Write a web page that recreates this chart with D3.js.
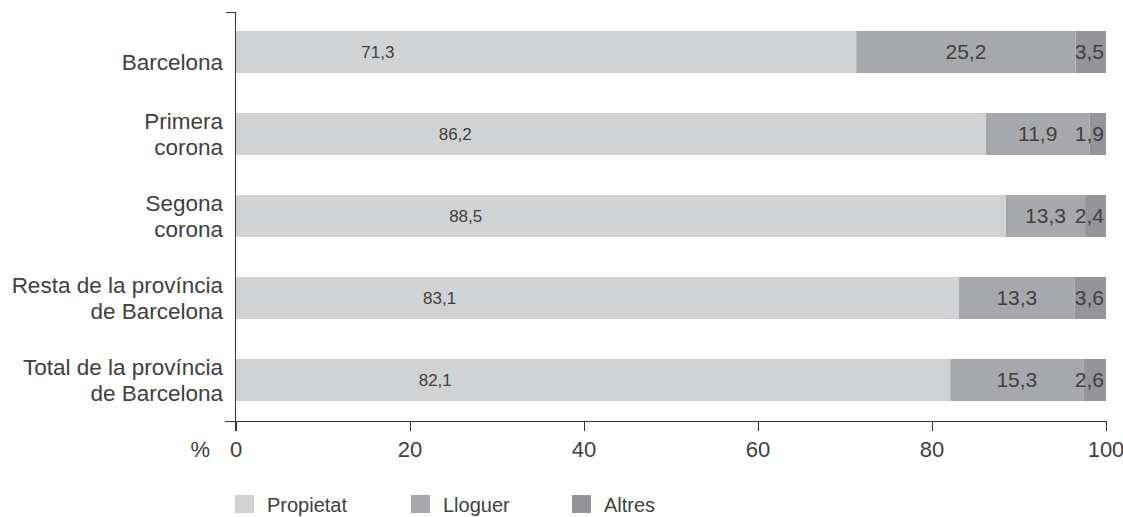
<!DOCTYPE html>
<html>
<head>
<meta charset="utf-8">
<script src="https://cdn.jsdelivr.net/npm/d3@7"></script>
<style>
  html, body { margin: 0; padding: 0; background: #fff; }
  svg { display: block; font-family: "Liberation Sans", Arial, sans-serif; }
</style>
</head>
<body>
<svg id="chart" width="1123" height="517"></svg>
<script>
// Data
const categories = [
  ['', 'Barcelona'],
  ['Primera', 'corona'],
  ['Segona', 'corona'],
  ['Resta de la província', 'de Barcelona'],
  ['Total de la província', 'de Barcelona']
];
const propietat = [71.3, 86.2, 88.5, 83.1, 82.1];
const lloguer = [25.2, 11.9, 13.3, 13.3, 15.3];
const altres = [3.5, 1.9, 2.4, 3.6, 2.6];
const seriesNames = ['Propietat', 'Lloguer', 'Altres'];
const xTicks = [0, 20, 40, 60, 80, 100];

// where the Propietat value sits inside its bar (in % units of the axis)
const propLabelAt = [16.3, 25.2, 26.4, 23.4, 22.9];

const COLORS = ['#d1d2d4', '#a7a8ab', '#939598'];
const TEXT = '#404040';

const svg = d3.select('#chart');

const x = d3.scaleLinear().domain([0, 100]).range([236, 1106]);
const y = d3.scaleBand()
  .domain(d3.range(categories.length))
  .range([11, 421])
  .paddingInner(40 / 82)
  .paddingOuter(20 / 82);

const rows = categories.map((c, i) => {
  const p = propietat[i], a = altres[i];
  return {
    i, p, l: lloguer[i], a,
    segs: [
      { k: 0, x0: 0, x1: p },
      { k: 1, x0: p, x1: 100 - a },
      { k: 2, x0: 100 - a, x1: 100 }
    ]
  };
});

const bars = svg.selectAll('g.row')
  .data(rows)
  .enter()
  .append('g')
  .attr('class', 'row');

bars.selectAll('rect')
  .data(d => d.segs.map(s => ({ ...s, i: d.i })))
  .enter()
  .append('rect')
  .attr('x', d => x(d.x0))
  .attr('width', d => x(d.x1) - x(d.x0))
  .attr('y', d => y(d.i))
  .attr('height', y.bandwidth())
  .attr('fill', d => COLORS[d.k]);

const fmt = v => d3.format('.1f')(v).replace('.', ',');

// Propietat labels
bars.append('text')
  .attr('x', d => x(propLabelAt[d.i]))
  .attr('y', d => y(d.i) + y.bandwidth() / 2)
  .attr('dy', '0.35em')
  .attr('text-anchor', 'middle')
  .style('font-size', '17px')
  .style('fill', TEXT)
  .text(d => fmt(d.p));

// Lloguer labels
bars.append('text')
  .attr('x', d => (x(d.segs[1].x0) + x(d.segs[1].x1)) / 2)
  .attr('y', d => y(d.i) + y.bandwidth() / 2)
  .attr('dy', '0.35em')
  .attr('text-anchor', 'middle')
  .style('font-size', '21px')
  .style('fill', TEXT)
  .text(d => fmt(d.l));

// Altres labels
bars.append('text')
  .attr('x', x(100) - 2)
  .attr('y', d => y(d.i) + y.bandwidth() / 2)
  .attr('dy', '0.35em')
  .attr('text-anchor', 'end')
  .style('font-size', '21px')
  .style('fill', TEXT)
  .text(d => fmt(d.a));

// Category labels
const catLabels = svg.selectAll('text.cat')
  .data(categories)
  .enter()
  .append('text')
  .attr('class', 'cat')
  .attr('text-anchor', 'end')
  .style('font-size', '22.5px')
  .style('fill', TEXT);

catLabels.each(function(c, i) {
  const cy = y(i) + y.bandwidth() / 2;
  const t = d3.select(this);
  if (c[0] === '') {
    t.append('tspan').attr('x', 223).attr('y', cy + 10).attr('dy', '0.35em').text(c[1]);
  } else {
    t.append('tspan').attr('x', 223).attr('y', cy - 13).attr('dy', '0.35em').text(c[0]);
    t.append('tspan').attr('x', 223).attr('y', cy + 13).attr('dy', '0.35em').text(c[1]);
  }
});

// Axes lines
const axisY = 421;
svg.append('line')
  .attr('x1', 235.5).attr('x2', 235.5)
  .attr('y1', 12).attr('y2', axisY + 10)
  .attr('stroke', '#333').attr('stroke-width', 1);
svg.append('line')
  .attr('x1', 226).attr('x2', 236)
  .attr('y1', 12.5).attr('y2', 12.5)
  .attr('stroke', '#333').attr('stroke-width', 1);
svg.append('line')
  .attr('x1', 225).attr('x2', x(100) + 0.5)
  .attr('y1', axisY + 0.5).attr('y2', axisY + 0.5)
  .attr('stroke', '#333').attr('stroke-width', 1);

const xAxis = svg.append('g');
xAxis.selectAll('line.tick')
  .data(xTicks)
  .enter()
  .append('line')
  .attr('x1', d => Math.round(x(d)) + 0.5)
  .attr('x2', d => Math.round(x(d)) + 0.5)
  .attr('y1', axisY)
  .attr('y2', axisY + 10)
  .attr('stroke', '#333');
xAxis.selectAll('text.tick')
  .data(xTicks)
  .enter()
  .append('text')
  .attr('x', d => x(d))
  .attr('y', 449)
  .attr('dy', '0.35em')
  .attr('text-anchor', 'middle')
  .style('font-size', '22px')
  .style('fill', TEXT)
  .text(d => d);
svg.append('text')
  .attr('x', 210)
  .attr('y', 449)
  .attr('dy', '0.35em')
  .attr('text-anchor', 'end')
  .style('font-size', '22px')
  .style('fill', TEXT)
  .text('%');

// Legend
const legendX = [235, 411, 572];
const legend = svg.selectAll('g.legend')
  .data(seriesNames)
  .enter()
  .append('g')
  .attr('class', 'legend')
  .attr('transform', (d, i) => `translate(${legendX[i]},495)`);
legend.append('rect')
  .attr('width', 19)
  .attr('height', 18)
  .attr('fill', (d, i) => COLORS[i]);
legend.append('text')
  .attr('x', 32)
  .attr('y', 10)
  .attr('dy', '0.35em')
  .style('font-size', '20px')
  .style('fill', TEXT)
  .text(d => d);
</script>
</body>
</html>
